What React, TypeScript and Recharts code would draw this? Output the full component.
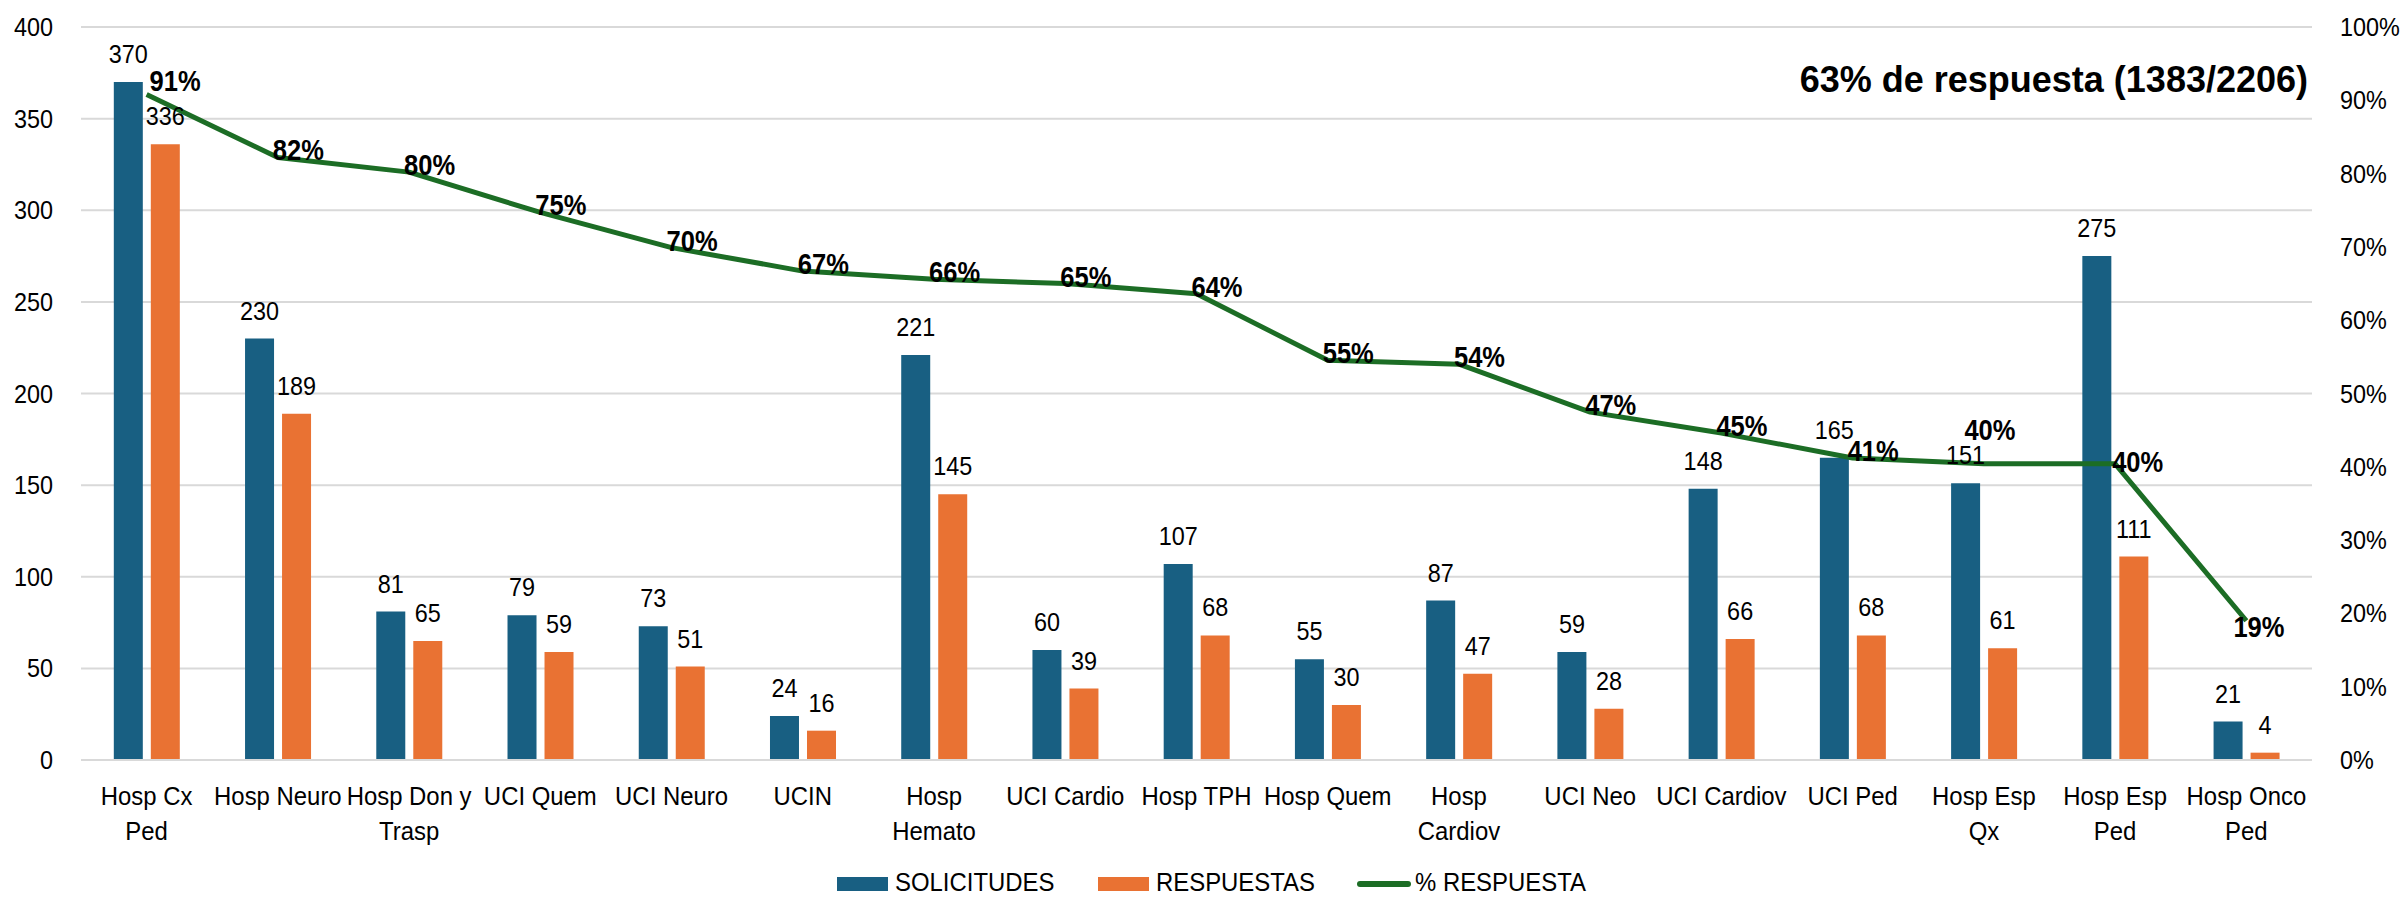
import React from "react";
import {
  ComposedChart,
  Bar,
  Line,
  XAxis,
  YAxis,
  CartesianGrid,
  LabelList,
} from "recharts";

const categories = [
  "Hosp Cx Ped",
  "Hosp Neuro",
  "Hosp Don y Trasp",
  "UCI Quem",
  "UCI Neuro",
  "UCIN",
  "Hosp Hemato",
  "UCI Cardio",
  "Hosp TPH",
  "Hosp Quem",
  "Hosp Cardiov",
  "UCI Neo",
  "UCI Cardiov",
  "UCI Ped",
  "Hosp Esp Qx",
  "Hosp Esp Ped",
  "Hosp Onco Ped",
];

const categoryLines = [
  ["Hosp Cx", "Ped"],
  ["Hosp Neuro"],
  ["Hosp Don y", "Trasp"],
  ["UCI Quem"],
  ["UCI Neuro"],
  ["UCIN"],
  ["Hosp", "Hemato"],
  ["UCI Cardio"],
  ["Hosp TPH"],
  ["Hosp Quem"],
  ["Hosp", "Cardiov"],
  ["UCI Neo"],
  ["UCI Cardiov"],
  ["UCI Ped"],
  ["Hosp Esp", "Qx"],
  ["Hosp Esp", "Ped"],
  ["Hosp Onco", "Ped"],
];

const solicitudes = [370, 230, 81, 79, 73, 24, 221, 60, 107, 55, 87, 59, 148, 165, 151, 275, 21];
const respuestas = [336, 189, 65, 59, 51, 16, 145, 39, 68, 30, 47, 28, 66, 68, 61, 111, 4];
const pctRespuesta = [0.908, 0.822, 0.802, 0.747, 0.699, 0.667, 0.656, 0.65, 0.636, 0.5455, 0.54, 0.4746, 0.446, 0.412, 0.404, 0.404, 0.19];

const leftTicks = [0, 50, 100, 150, 200, 250, 300, 350, 400];
const rightTicks = [0, 0.1, 0.2, 0.3, 0.4, 0.5, 0.6, 0.7, 0.8, 0.9, 1];

const titleText = "63% de respuesta (1383/2206)";
const legendLabels = ["SOLICITUDES", "RESPUESTAS", "% RESPUESTA"];

const data = categories.map((name, i) => ({
  name,
  sol: solicitudes[i],
  resp: respuestas[i],
  pct: pctRespuesta[i],
}));

const BLUE = "#185F82";
const ORANGE = "#E97233";
const GREEN = "#1C6D25";
const GRID = "#D9D9D9";
const SANS = "'Liberation Sans', Arial, sans-serif";

const NText = (props: any) => {
  const { x, y, anchor = "middle", size = 26, sx = 0.9, bold = false, children } = props;
  return (
    <text
      transform={`translate(${x},${y}) scale(${sx},1)`}
      textAnchor={anchor}
      fontFamily={SANS}
      fontSize={size}
      fontWeight={bold ? "bold" : "normal"}
      fill="#000"
    >
      {children}
    </text>
  );
};

const CatTick = (props: any) => {
  const { x, y, payload } = props;
  const idx = categories.indexOf(payload.value);
  const lines = idx >= 0 ? categoryLines[idx] : [String(payload.value)];
  return (
    <g>
      {lines.map((ln: string, i: number) => (
        <NText key={i} x={x} y={y + 37 + i * 35} sx={0.92}>
          {ln}
        </NText>
      ))}
    </g>
  );
};

const LeftTick = (props: any) => {
  const { x, y, payload } = props;
  return (
    <NText x={x} y={y + 9} anchor="end">
      {payload.value}
    </NText>
  );
};

const RightTick = (props: any) => {
  const { x, y, payload } = props;
  return (
    <NText x={x} y={y + 9} anchor="start">
      {`${Math.round(payload.value * 100)}%`}
    </NText>
  );
};

const BarLabel = (props: any) => {
  const { x, y, width, value } = props;
  return (
    <NText x={x + width / 2} y={y - 19}>
      {value}
    </NText>
  );
};

const PctLabel = (props: any) => {
  const { x, y, value, index } = props;
  let tx = x - 5;
  let ty = y + 3;
  let anchor = "start";
  if (index === 14) {
    tx = x + 6;
    ty = y - 24;
    anchor = "middle";
  } else if (index === 16) {
    tx = x - 13;
    ty = y + 16;
  } else if (index === 15) {
    tx = x - 3;
    ty = y + 8;
  } else if (index === 0) {
    tx = x + 3;
    ty = y - 3;
  }
  return (
    <NText x={tx} y={ty} anchor={anchor} size={29} sx={0.88} bold>
      {`${Math.round(value * 100)}%`}
    </NText>
  );
};

export default function App() {
  return (
    <div
      style={{
        position: "absolute",
        left: 0,
        top: 0,
        width: 2402,
        height: 898,
        background: "#fff",
      }}
    >
      <ComposedChart
        width={2402}
        height={898}
        data={data}
        margin={{ top: 27, right: 0, left: 0, bottom: 0 }}
        barCategoryGap="25%"
        barGap={8}
      >
        <CartesianGrid yAxisId="left" vertical={false} stroke={GRID} strokeWidth={2} />
        <XAxis
          dataKey="name"
          height={138}
          interval={0}
          tickLine={false}
          axisLine={{ stroke: GRID, strokeWidth: 2 }}
          tick={<CatTick />}
        />
        <YAxis
          yAxisId="left"
          domain={[0, 400]}
          ticks={leftTicks}
          width={81}
          axisLine={false}
          tickLine={false}
          tickMargin={22}
          tick={<LeftTick />}
        />
        <YAxis
          yAxisId="right"
          orientation="right"
          domain={[0, 1]}
          ticks={rightTicks}
          width={90}
          axisLine={false}
          tickLine={false}
          tickMargin={22}
          tick={<RightTick />}
        />
        <Bar yAxisId="left" dataKey="sol" fill={BLUE} isAnimationActive={false}>
          <LabelList dataKey="sol" content={<BarLabel />} />
        </Bar>
        <Bar yAxisId="left" dataKey="resp" fill={ORANGE} isAnimationActive={false}>
          <LabelList dataKey="resp" content={<BarLabel />} />
        </Bar>
        <Line
          yAxisId="right"
          dataKey="pct"
          stroke={GREEN}
          strokeWidth={5}
          dot={false}
          activeDot={false}
          strokeLinejoin="round"
          isAnimationActive={false}
        >
          <LabelList dataKey="pct" content={<PctLabel />} />
        </Line>
        <text
          x={2308}
          y={92}
          textAnchor="end"
          fontFamily={SANS}
          fontWeight="bold"
          fontSize={36}
          fill="#000"
        >
          {titleText}
        </text>
        <g>
          <rect x={837} y={877} width={51} height={14} fill={BLUE} />
          <NText x={895} y={891} anchor="start" sx={0.92}>{legendLabels[0]}</NText>
          <rect x={1098} y={877} width={51} height={14} fill={ORANGE} />
          <NText x={1156} y={891} anchor="start" sx={0.92}>{legendLabels[1]}</NText>
          <line x1={1360} y1={884} x2={1408} y2={884} stroke={GREEN} strokeWidth={6} strokeLinecap="round" />
          <NText x={1415} y={891} anchor="start" sx={0.92}>{legendLabels[2]}</NText>
        </g>
      </ComposedChart>
    </div>
  );
}
